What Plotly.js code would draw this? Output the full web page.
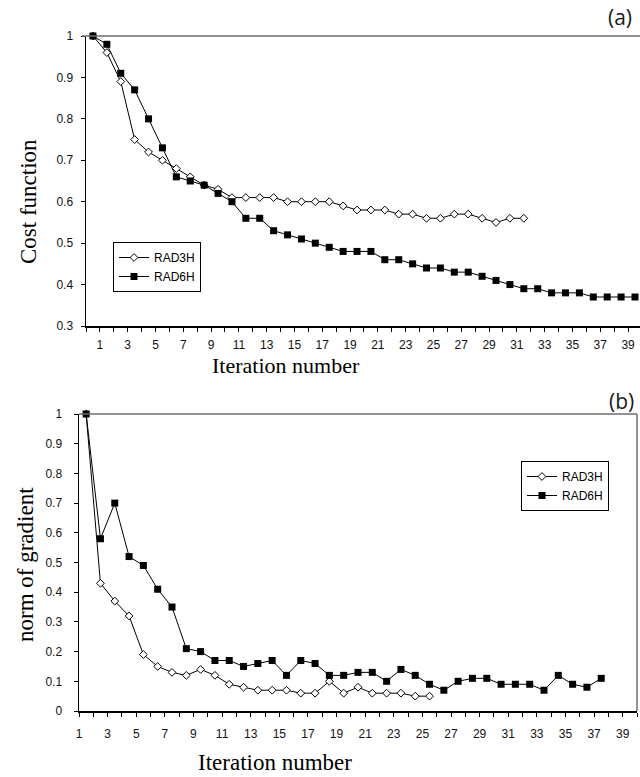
<!DOCTYPE html>
<html>
<head>
<meta charset="utf-8">
<script src="https://cdn.plot.ly/plotly-3.0.1.min.js"></script>
<style>
html,body{margin:0;padding:0;background:#fff;overflow:hidden;}
#chart{width:640px;height:777px;}
</style>
</head>
<body>
<div id="chart"></div>
<script>
// ---- data ----
// (a) Cost function
const costRAD3H = [1.00,0.96,0.89,0.75,0.72,0.70,0.68,0.66,0.64,0.63,0.61,0.61,0.61,0.61,0.60,0.60,
                   0.60,0.60,0.59,0.58,0.58,0.58,0.57,0.57,0.56,0.56,0.57,0.57,0.56,0.55,0.56,0.56];
const costRAD6H = [1.00,0.98,0.91,0.87,0.80,0.73,0.66,0.65,0.64,0.62,0.60,0.56,0.56,0.53,0.52,0.51,
                   0.50,0.49,0.48,0.48,0.48,0.46,0.46,0.45,0.44,0.44,0.43,0.43,0.42,0.41,0.40,0.39,
                   0.39,0.38,0.38,0.38,0.37,0.37,0.37,0.37];
// (b) Norm of gradient
const gradRAD3H = [1.00,0.43,0.37,0.32,0.19,0.15,0.13,0.12,0.14,0.12,0.09,0.08,0.07,0.07,0.07,0.06,
                   0.06,0.10,0.06,0.08,0.06,0.06,0.06,0.05,0.05];
const gradRAD6H = [1.00,0.58,0.70,0.52,0.49,0.41,0.35,0.21,0.20,0.17,0.17,0.15,0.16,0.17,0.12,0.17,
                   0.16,0.12,0.12,0.13,0.13,0.10,0.14,0.12,0.09,0.07,0.10,0.11,0.11,0.09,0.09,0.09,
                   0.07,0.12,0.09,0.08,0.11];
const xTickLabels = ["1","3","5","7","9","11","13","15","17","19","21","23","25","27","29","31","33","35","37","39"];
const seriesNames = ["RAD3H","RAD6H"];
const yTicksA = [0.3,0.4,0.5,0.6,0.7,0.8,0.9,1];
const yTicksB = [0,0.1,0.2,0.3,0.4,0.5,0.6,0.7,0.8,0.9,1];
const yTextA = ["0.3","0.4","0.5","0.6","0.7","0.8","0.9","1"];
const yTextB = ["0","0.1","0.2","0.3","0.4","0.5","0.6","0.7","0.8","0.9","1"];

// ---- helpers ----
const W = 640, H = 777;
const px = v => v / W;
const py = v => (H - v) / H;
const iter = arr => arr.map((_, i) => i + 1);

// category boundary ticks; labels sit at a boundary next to the labelled category
function boundaryTicks(nCats, labelSide) {
  const vals = [], text = [];
  for (let b = 0; b <= nCats; b++) vals.push(b + 0.5);
  vals.forEach(v => text.push(""));
  xTickLabels.forEach(l => {
    const k = +l;
    const pos = labelSide === "right" ? k + 0.5 : k - 0.5;
    const idx = vals.indexOf(pos);
    if (idx >= 0) text[idx] = l;
  });
  return {vals, text};
}
const ticksA = boundaryTicks(40, "right");
const ticksB = boundaryTicks(39, "left");

const lineStyle = {color: "#000", width: 1};
const diamond = {symbol: "diamond", size: 6, color: "#fff", line: {color: "#000", width: 1}};
const square = {symbol: "square", size: 7, color: "#000", line: {color: "#000", width: 0}};

const traces = [
  {x: iter(costRAD3H), y: costRAD3H, name: seriesNames[0], mode: "lines+markers", line: lineStyle,
   marker: diamond, xaxis: "x", yaxis: "y", legend: "legend", cliponaxis: false},
  {x: iter(costRAD6H), y: costRAD6H, name: seriesNames[1], mode: "lines+markers", line: lineStyle,
   marker: square, xaxis: "x", yaxis: "y", legend: "legend", cliponaxis: false},
  {x: iter(gradRAD3H), y: gradRAD3H, name: seriesNames[0], mode: "lines+markers", line: lineStyle,
   marker: diamond, xaxis: "x2", yaxis: "y2", legend: "legend2", cliponaxis: false},
  {x: iter(gradRAD6H), y: gradRAD6H, name: seriesNames[1], mode: "lines+markers", line: lineStyle,
   marker: square, xaxis: "x2", yaxis: "y2", legend: "legend2", cliponaxis: false}
];

const tickFont = {family: "Liberation Sans, Arial, sans-serif", size: 12, color: "#111"};
const titleFont = {family: "Liberation Serif, Times New Roman, serif", size: 23, color: "#000"};
const baseX = {
  type: "linear", showgrid: false, zeroline: false, showline: true, linecolor: "#000", linewidth: 1.5,
  ticks: "outside", ticklen: 4, tickwidth: 1, tickcolor: "#000", tickfont: tickFont,
  tickmode: "array", fixedrange: true
};
const baseY = {
  type: "linear", showgrid: false, zeroline: false, showline: true, linecolor: "#000", linewidth: 1.5,
  ticks: "outside", ticklen: 4, tickwidth: 1, tickcolor: "#000", tickfont: tickFont,
  tickmode: "array", fixedrange: true
};

const legendBase = {
  bordercolor: "#000", borderwidth: 1, bgcolor: "#fff",
  font: {family: "Liberation Sans, Arial, sans-serif", size: 12, color: "#000"},
  xanchor: "left", yanchor: "top", itemwidth: 30, tracegroupgap: 0
};

const layout = {
  width: W, height: H,
  margin: {l: 0, r: 0, t: 0, b: 0},
  paper_bgcolor: "#fff", plot_bgcolor: "#fff",
  showlegend: true,
  xaxis: Object.assign({}, baseX, {domain: [px(86), 1], range: [0.5, 40.36], anchor: "y",
    tickvals: ticksA.vals, ticktext: ticksA.text, ticklabelstandoff: 3}),
  yaxis: Object.assign({}, baseY, {domain: [py(326), py(36)], range: [0.3, 1], anchor: "x",
    tickvals: yTicksA, ticktext: yTextA, ticklabelstandoff: 5}),
  xaxis2: Object.assign({}, baseX, {domain: [px(79), px(637)], range: [0.5, 39.5], anchor: "y2",
    tickvals: ticksB.vals, ticktext: ticksB.text, ticklabelstandoff: 7}),
  yaxis2: Object.assign({}, baseY, {domain: [py(711), py(414)], range: [0, 1], anchor: "x2",
    tickvals: yTicksB, ticktext: yTextB, ticklabelstandoff: 9}),
  legend: Object.assign({}, legendBase, {x: px(113), y: py(242)}),
  legend2: Object.assign({}, legendBase, {x: px(521), y: py(461)}),
  shapes: [
    {type: "line", xref: "paper", yref: "paper", x0: px(82), x1: 1, y0: py(36), y1: py(36),
     line: {color: "#6e6e6e", width: 1.5}},
    {type: "line", xref: "paper", yref: "paper", x0: px(79), x1: px(637), y0: py(414), y1: py(414),
     line: {color: "#6e6e6e", width: 1.5}},
    {type: "line", xref: "paper", yref: "paper", x0: px(637), x1: px(637), y0: py(414), y1: py(711),
     line: {color: "#6e6e6e", width: 1.5}}
  ],
  annotations: [
    {text: "Iteration number", xref: "paper", yref: "paper", x: px(286), y: py(366),
     xanchor: "center", yanchor: "middle", showarrow: false, font: Object.assign({}, titleFont, {size: 22})},
    {text: "Cost function", xref: "paper", yref: "paper", x: px(29), y: py(202), textangle: -90,
     xanchor: "center", yanchor: "middle", showarrow: false, font: titleFont},
    {text: "Iteration number", xref: "paper", yref: "paper", x: px(275), y: 0,
     xanchor: "center", yanchor: "bottom", showarrow: false, font: titleFont},
    {text: "norm of gradient", xref: "paper", yref: "paper", x: px(25), y: py(565), textangle: -90,
     xanchor: "center", yanchor: "middle", showarrow: false, font: titleFont},
    {text: "(a)", xref: "paper", yref: "paper", x: px(620), y: py(17),
     xanchor: "center", yanchor: "middle", showarrow: false,
     font: {family: "Open Sans, sans-serif", size: 21, color: "#1a1a1a"}},
    {text: "(b)", xref: "paper", yref: "paper", x: px(621), y: py(401),
     xanchor: "center", yanchor: "middle", showarrow: false,
     font: {family: "Open Sans, sans-serif", size: 21, color: "#1a1a1a"}}
  ]
};

Plotly.newPlot("chart", traces, layout, {displayModeBar: false, staticPlot: true});
</script>
</body>
</html>
